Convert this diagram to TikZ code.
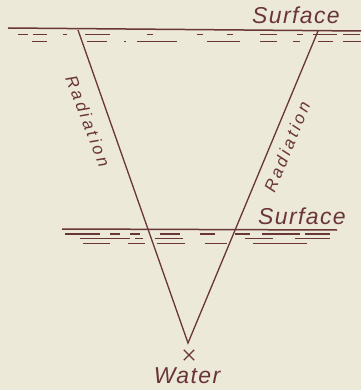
\documentclass[tikz,border=0pt]{standalone}
\usepackage{fontspec}
\setmainfont{Liberation Sans}
\usetikzlibrary{shapes.misc}
\definecolor{paper}{HTML}{ECE9D9}
\definecolor{ink}{HTML}{6A3539}
\begin{document}
\begin{tikzpicture}[x=1pt,y=-1pt,
  surf/.style={draw=ink,line width=1.5pt},
  ripple/.style={draw=ink,line width=1.1pt},
  ray/.style={draw=ink,line width=1.3pt},
  lbl/.style={text=ink,inner sep=0pt,font=\fontsize{23}{23}\selectfont\itshape\addfontfeature{LetterSpace=6}},
  rlbl/.style={text=ink,inner sep=0pt,font=\fontsize{17}{17}\selectfont\itshape\addfontfeature{LetterSpace=18}}]
\fill[paper] (0,0) rectangle (361,390);
\useasboundingbox (0,0) rectangle (361,390);
% top surface
\coordinate (s1a) at (8,28);
\coordinate (s1b) at (361,31);
\draw[surf] (s1a) -- (s1b);
\foreach \a/\b in {18/28,33/47,63/67,85/110,147/153,197/203,227/233,260/277,297/303,313/337,343/360}
  \draw[ripple] (\a,34.5) -- (\b,34.5);
\foreach \a/\b in {32/47,87/107,124/126,137/177,207/240,260/277,293/300,318/333,343/361}
  \draw[ripple] (\a,41.5) -- (\b,41.5);
% lower surface
\coordinate (s2a) at (62,229);
\coordinate (s2b) at (337,230);
\draw[surf] (s2a) -- (s2b);
\foreach \a/\b in {65/100,110/120,130/140,160/180,200/215,235/250,262/300,305/330}
  \draw[ripple] (\a,234) -- (\b,234);
\foreach \a/\b in {80/130,135/143,155/183,245/273,295/330}
  \draw[ripple] (\a,238.5) -- (\b,238.5);
\foreach \a/\b in {83/110,128/145,157/185,205/227,253/307}
  \draw[ripple] (\a,243.5) -- (\b,243.5);
% rays
\coordinate (tl) at (78,30);
\coordinate (tr) at (318,31);
\coordinate (apex) at (188,343);
\draw[ray] (tl) -- (apex) -- (tr);
% labels
\node[lbl] (surftop) at (296,15) {Surface};
\node[lbl] (surfbot) at (302,216) {Surface};
\node[rlbl,rotate=-69] (radl) at (88,121) {Radiation};
\node[rlbl,rotate=68] (radr) at (287,147) {Radiation};
\node[cross out,draw=ink,line width=1.3pt,minimum size=9pt,inner sep=0pt] (mark) at (189,355) {};
\node[lbl] (water) at (187,376) {Water};
\end{tikzpicture}
\end{document}
